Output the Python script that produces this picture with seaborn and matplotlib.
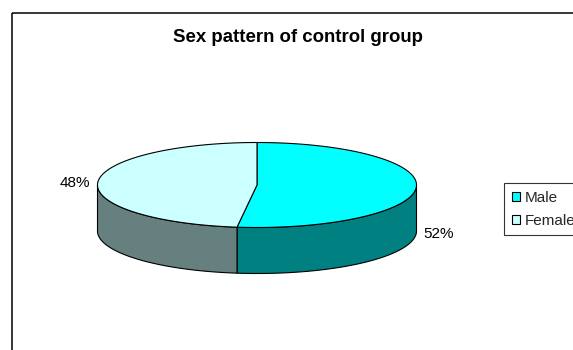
import numpy as np
import matplotlib
matplotlib.use("Agg")
import matplotlib.pyplot as plt
from matplotlib.patches import Polygon, Rectangle, Patch
import seaborn as sns

categories = ["Male", "Female"]
values = [52, 48]
top_colors = ["#00FFFF", "#CCFFFF"]
side_colors = ["#008080", "#668080"]
title = "Sex pattern of control group"

sns.set_theme(style="white")
plt.rcParams['font.family'] = ['Liberation Sans', 'DejaVu Sans']

fig = plt.figure(figsize=(5.73, 3.5), dpi=100)
ax = fig.add_axes([0, 0, 1, 1])
ax.set_xlim(0, 573)
ax.set_ylim(350, 0)
ax.axis('off')

# chart frame
ax.add_patch(Rectangle((12, 13), 700, 400, fill=False, edgecolor='black', lw=1.1))

cx, cy, a, b, depth = 257, 185, 159.5, 42.5, 46

def pt(t, dy=0.0):
    t = np.deg2rad(t)
    return np.column_stack([cx + a * np.cos(t), cy - b * np.sin(t) + dy])

total = float(sum(values))
start = 90.0
wedges = []
for v in values:
    span = 360.0 * v / total
    wedges.append((start - span, start))  # clockwise from start
    start -= span

# sides (front half: 180..360 degrees)
for (t0, t1), sc in zip(wedges, side_colors):
    lo, hi = t0 % 360, t1 % 360
    if hi <= lo:
        hi += 360
    segs = []
    for base in (0, 360):
        s = max(lo, 180 + base)
        e = min(hi, 360 + base)
        if e > s:
            segs.append((s, e))
    for s, e in segs:
        ts = np.linspace(s, e, 120)
        top = pt(ts)
        bot = pt(ts[::-1], depth)
        ax.add_patch(Polygon(np.vstack([top, bot]), closed=True,
                             facecolor=sc, edgecolor='black', lw=0.8, zorder=2))

# tops
for (t0, t1), tc in zip(wedges, top_colors):
    ts = np.linspace(t0, t1, 200)
    poly = np.vstack([[cx, cy], pt(ts)])
    ax.add_patch(Polygon(poly, closed=True, facecolor=tc,
                         edgecolor='black', lw=0.8, zorder=3))

# labels
ax.text(90, 183, f"{values[1]}%", ha='right', va='center', fontsize=11, color='black')
ax.text(423, 234, f"{values[0]}%", ha='left', va='center', fontsize=11, color='black')

ax.text(298, 38, title, ha='center', va='center', fontsize=13.4,
        fontweight='bold', color='black')

handles = [Patch(facecolor=c, edgecolor='black', lw=0.8) for c in top_colors]
leg = ax.legend(handles, categories, loc='upper left',
                bbox_to_anchor=(504 / 573, 1 - 183 / 350), bbox_transform=fig.transFigure,
                fontsize=11, frameon=True, fancybox=False, shadow=False,
                handlelength=0.55, handleheight=0.55, handletextpad=0.3,
                borderpad=0.5, labelspacing=0.6, borderaxespad=0)
leg.get_frame().set_edgecolor('black')
leg.get_frame().set_linewidth(0.8)

fig.savefig("out.png", dpi=100)
